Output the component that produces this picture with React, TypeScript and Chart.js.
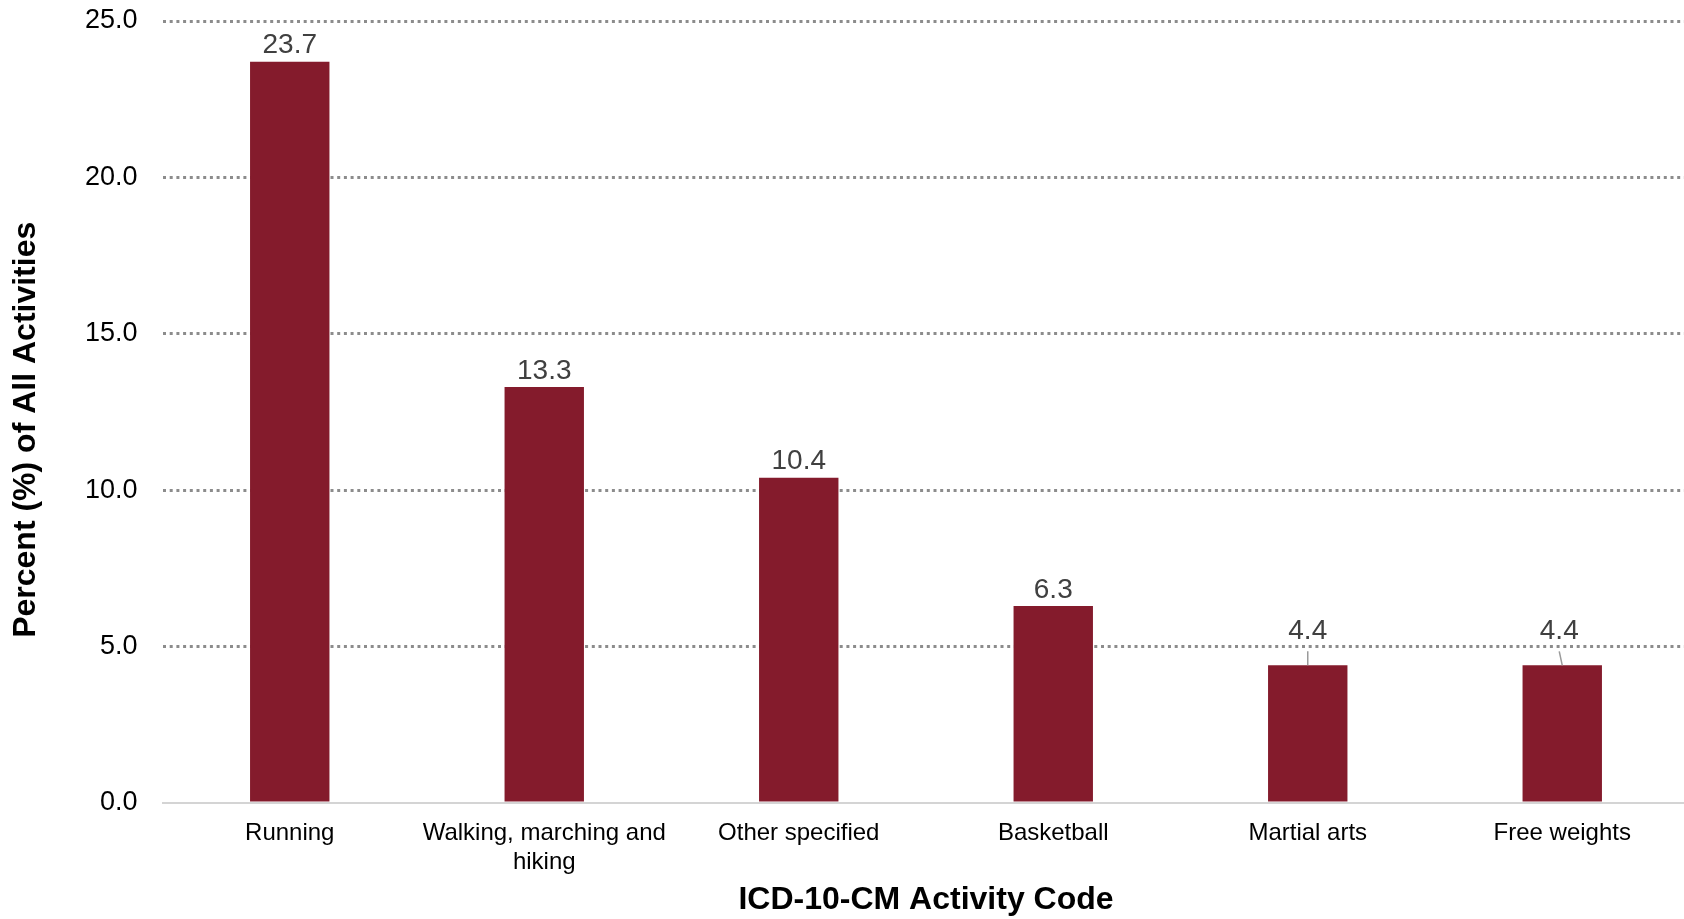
import React, { useEffect, useRef } from "react";
import { Chart, registerables } from "chart.js";

Chart.register(...registerables);

const categories: (string | string[])[] = [
  "Running",
  ["Walking, marching and", "hiking"],
  "Other specified",
  "Basketball",
  "Martial arts",
  "Free weights",
];
const percentValues: number[] = [23.7, 13.3, 10.4, 6.3, 4.4, 4.4];
const yTickStep = 5;
const yMax = 25;

const FONT = "'Liberation Sans', Arial, sans-serif";

const valueLabelPlugin = {
  id: "valueLabels",
  afterDatasetsDraw(chart: any) {
    const ctx = chart.ctx;
    const meta = chart.getDatasetMeta(0);
    const data = chart.data.datasets[0].data as number[];
    ctx.save();
    ctx.font = `28px ${FONT}`;
    ctx.fillStyle = "#404040";
    ctx.textAlign = "center";
    ctx.textBaseline = "middle";
    meta.data.forEach((bar: any, i: number) => {
      const v = data[i];
      const top = bar.y;
      const leader = i >= 4;
      const dx = i === 5 ? -3 : 0;
      const cy = leader ? top - 34 : top - 16;
      ctx.fillText(v.toFixed(1), bar.x + dx, cy);
      if (leader) {
        ctx.strokeStyle = "#9a9a9a";
        ctx.lineWidth = 1.5;
        ctx.beginPath();
        ctx.moveTo(bar.x + dx, cy + 20);
        ctx.lineTo(bar.x, top);
        ctx.stroke();
      }
    });
    ctx.restore();
  },
};

export default function App() {
  const ref = useRef<HTMLCanvasElement | null>(null);
  useEffect(() => {
    document.body.style.margin = "0";
    if (!ref.current) return;
    const chart = new Chart(ref.current, {
      type: "bar",
      data: {
        labels: categories,
        datasets: [
          {
            data: percentValues,
            backgroundColor: "#841B2C",
            borderWidth: 0,
            barPercentage: 0.312,
            categoryPercentage: 1,
          },
        ],
      },
      options: {
        animation: false,
        responsive: false,
        maintainAspectRatio: false,
        layout: { padding: { top: 21, right: 0.5, bottom: 0, left: 0 } },
        plugins: {
          legend: { display: false },
          tooltip: { enabled: false },
        },
        scales: {
          x: {
            grid: { display: false, drawTicks: false },
            border: { display: true, color: "#d4d4d4", width: 2 },
            ticks: {
              color: "#000",
              font: { family: FONT, size: 24 },
              padding: 16,
              maxRotation: 0,
              autoSkip: false,
            },
            title: {
              display: true,
              text: "ICD-10-CM Activity Code",
              color: "#000",
              font: { family: FONT, size: 32, weight: "bold" },
              padding: { top: 0, bottom: 0 },
            },
            afterFit: (scale: any) => {
              scale.height = 116;
              scale.paddingLeft = 0;
              scale.paddingRight = 0;
            },
          },
          y: {
            min: 0,
            max: yMax,
            grid: {
              drawTicks: false,
              lineWidth: 3,
              color: (c: any) => (c.tick && c.tick.value === 0 ? "rgba(0,0,0,0)" : "#8c8c8c"),
            },
            border: { display: false, dash: [3, 3.7] },
            ticks: {
              stepSize: yTickStep,
              color: "#000",
              font: { family: FONT, size: 27 },
              padding: 25,
              callback: (v: any) => Number(v).toFixed(1),
            },
            title: {
              display: true,
              text: "Percent (%) of All Activities    ",
              color: "#000",
              font: { family: FONT, size: 32, weight: "bold" },
              padding: { top: 7, bottom: 0 },
            },
            afterFit: (scale: any) => {
              scale.width = 162.5;
              scale.paddingTop = 0;
              scale.paddingBottom = 0;
            },
          },
        },
      },
      plugins: [valueLabelPlugin],
    });
    return () => chart.destroy();
  }, []);
  return (
    <div style={{ position: "fixed", left: 0, top: 0, width: 1684, height: 919, overflow: "hidden", background: "#fff" }}>
      <canvas ref={ref} width={1690} height={919} style={{ width: 1690, height: 919, display: "block" }} />
    </div>
  );
}
